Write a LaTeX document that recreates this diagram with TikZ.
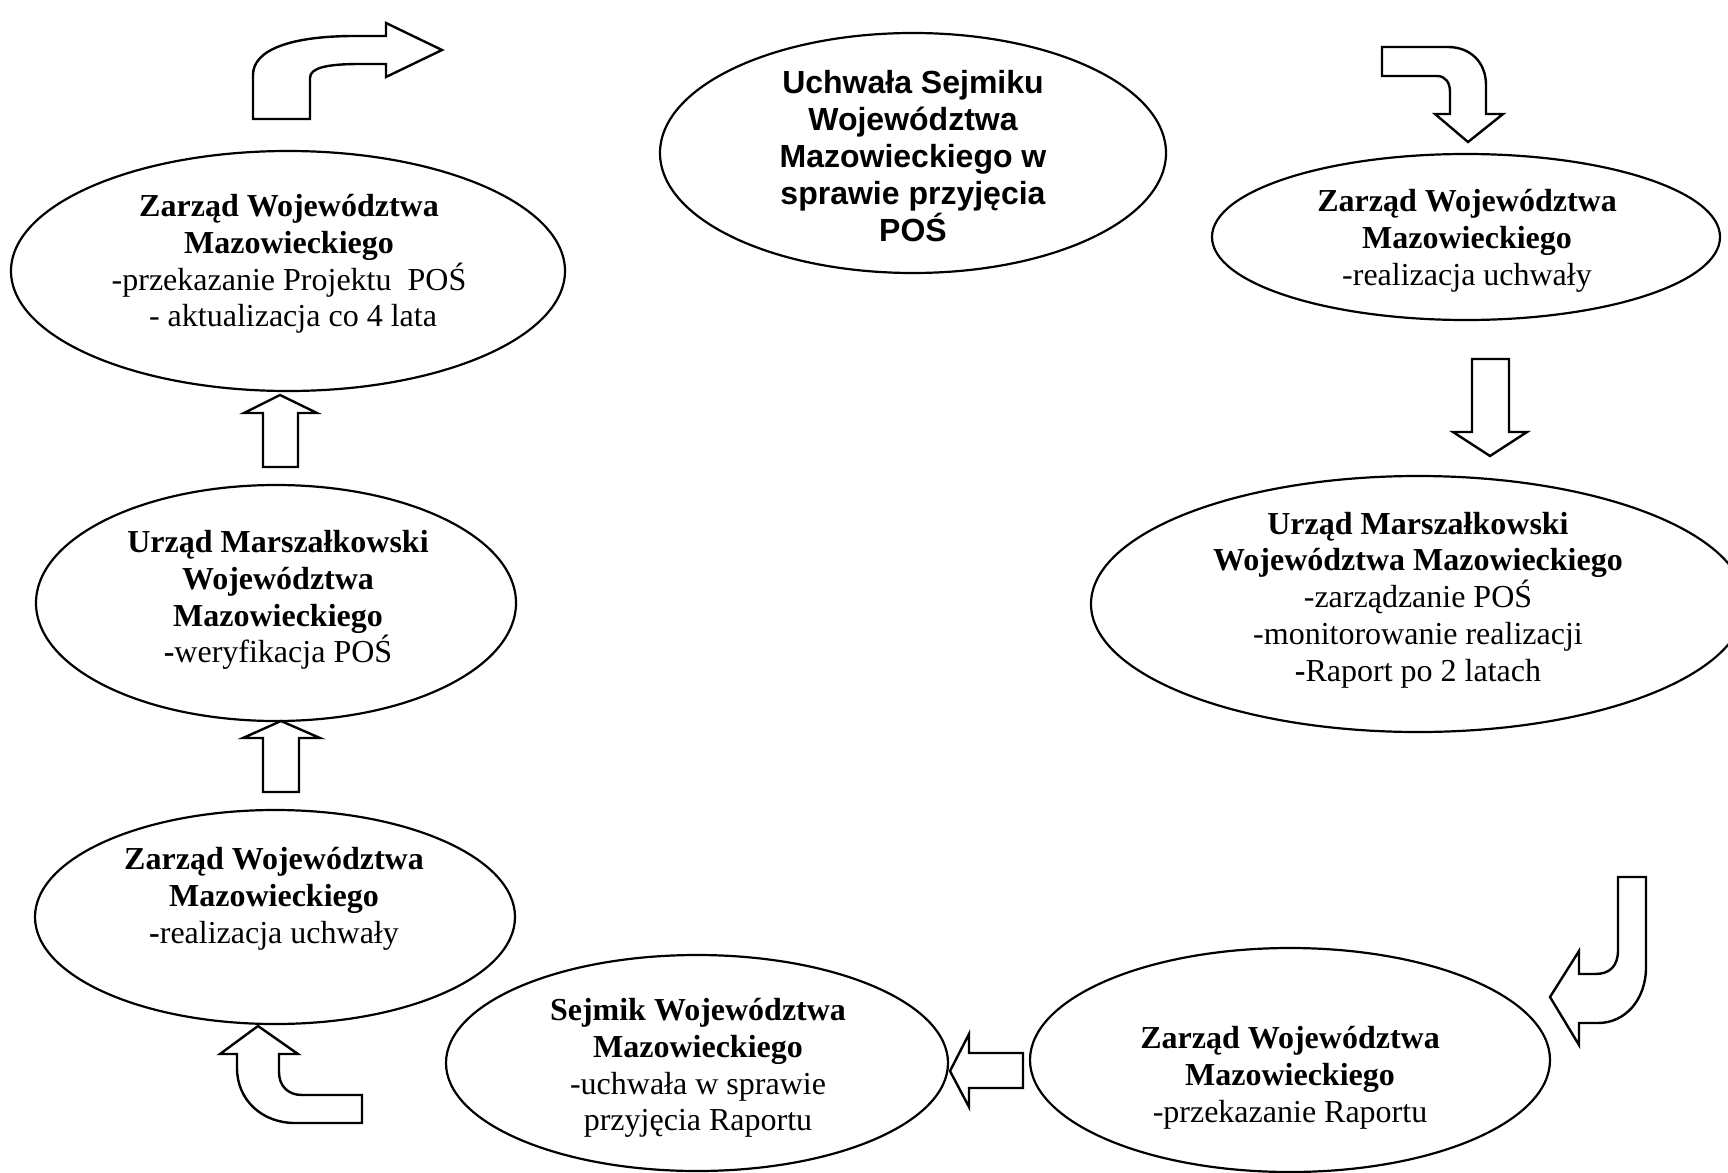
\documentclass[tikz,border=0pt]{standalone}
\usepackage{fontspec}
\setmainfont{Liberation Serif}
\newfontfamily\arialfont{Liberation Sans}
\usetikzlibrary{shapes.geometric}
\begin{document}
\begin{tikzpicture}[x=0.5pt,y=-0.5pt,
  oval/.style 2 args={ellipse,draw,line width=1.1pt,minimum width=#1pt,minimum height=#2pt,inner sep=0pt},
  txt/.style={align=center,font=\fontsize{16}{18.4}\selectfont,inner sep=0pt},
  blockarrow/.style={draw,line width=1.2pt,fill=white,line join=miter}]
\useasboundingbox[fill=white] (0,0) rectangle (1728,1172);
\clip (0,0) rectangle (1728,1172);

% ellipses
\node[oval={277}{120}] (e1) at (288,271) {};
\node[txt] (t1) at (289,264) {\textbf{Zarząd Województwa}\\\textbf{Mazowieckiego}\\-przekazanie Projektu\ \ POŚ\\\ - aktualizacja co 4 lata};

\node[oval={253}{120}] (e2) at (913,153) {};
\node[txt,font=\arialfont\bfseries\fontsize{16}{18.4}\selectfont] (t2) at (913,156) {Uchwała Sejmiku\\Województwa\\Mazowieckiego w\\sprawie przyjęcia\\POŚ};

\node[oval={254}{83}] (e3) at (1466,237) {};
\node[txt] (t3) at (1467,241) {\textbf{Zarząd Województwa}\\\textbf{Mazowieckiego}\\-realizacja uchwały};

\node[oval={327}{128}] (e4) at (1418,604) {};
\node[txt] (t4) at (1418,600) {\textbf{Urząd Marszałkowski}\\\textbf{Województwa Mazowieckiego}\\-zarządzanie POŚ\\-monitorowanie realizacji\\\textbf{-}Raport po 2 latach};

\node[oval={240}{118}] (e5) at (276,603) {};
\node[txt] (t5) at (278,600) {\textbf{Urząd Marszałkowski}\\\textbf{Województwa}\\\textbf{Mazowieckiego}\\\textbf{-}weryfikacja POŚ};

\node[oval={240}{107}] (e6) at (275,917) {};
\node[txt] (t6) at (274,899) {\textbf{Zarząd Województwa}\\\textbf{Mazowieckiego}\\\textbf{-}realizacja uchwały};

\node[oval={251}{108}] (e7) at (697,1063) {};
\node[txt] (t7) at (698,1068) {\textbf{Sejmik Województwa}\\\textbf{Mazowieckiego}\\-uchwała w sprawie\\przyjęcia Raportu};

\node[oval={260}{112}] (e8) at (1290,1060) {};
\node[txt] (t8) at (1290,1078) {\textbf{Zarząd Województwa}\\\textbf{Mazowieckiego}\\-przekazanie Raportu};

% block arrows
% A: top-left bent arrow to the right
\draw[blockarrow] (253,119) -- (310,119) -- (310,78)
  .. controls (310,68) and (326,64) .. (360,64) -- (386,64) -- (386,77)
  -- (442,50) -- (386,23) -- (386,36) -- (355,36)
  .. controls (290,36) and (253,50) .. (253,75) -- cycle;
% B: top-right bent arrow down
\draw[blockarrow] (1382,47) -- (1448,47)
  .. controls (1470,47) and (1486,62) .. (1486,85) -- (1486,114) -- (1503,114)
  -- (1468,142) -- (1435,114) -- (1450,114) -- (1450,92)
  .. controls (1450,82) and (1445,76) .. (1437,76) -- (1382,76) -- cycle;
% H: straight arrow down (right)
\draw[blockarrow] (1472,359) -- (1509,359) -- (1509,432) -- (1527,432)
  -- (1490,456) -- (1453,432) -- (1472,432) -- cycle;
% C: J-shaped arrow (bottom right)
\draw[blockarrow] (1618,877) -- (1646,877) -- (1646,967)
  .. controls (1646,1000) and (1625,1023) .. (1598,1023) -- (1579,1023)
  -- (1579,1045) -- (1550,997) -- (1579,951) -- (1579,974) -- (1595,974)
  .. controls (1610,974) and (1618,966) .. (1618,950) -- cycle;
% E: straight arrow left (bottom)
\draw[blockarrow] (1023,1053) -- (1023,1088) -- (969,1088) -- (969,1107)
  -- (950,1071) -- (969,1034) -- (969,1053) -- cycle;
% D: bottom-left bent arrow up
\draw[blockarrow] (258,1026) -- (298,1054) -- (279,1054) -- (279,1072)
  .. controls (279,1086) and (288,1095) .. (302,1095) -- (362,1095)
  -- (362,1123) -- (295,1123) .. controls (262,1123) and (237,1100) .. (237,1068)
  -- (237,1054) -- (220,1054) -- cycle;
% G: straight arrow up (lower left)
\draw[blockarrow] (263,792) -- (299,792) -- (299,738) -- (320,738)
  -- (281,721) -- (243,738) -- (263,738) -- cycle;
% F: straight arrow up (upper left)
\draw[blockarrow] (263,467) -- (298,467) -- (298,413) -- (317,413)
  -- (280,395) -- (244,413) -- (263,413) -- cycle;
\end{tikzpicture}
\end{document}
